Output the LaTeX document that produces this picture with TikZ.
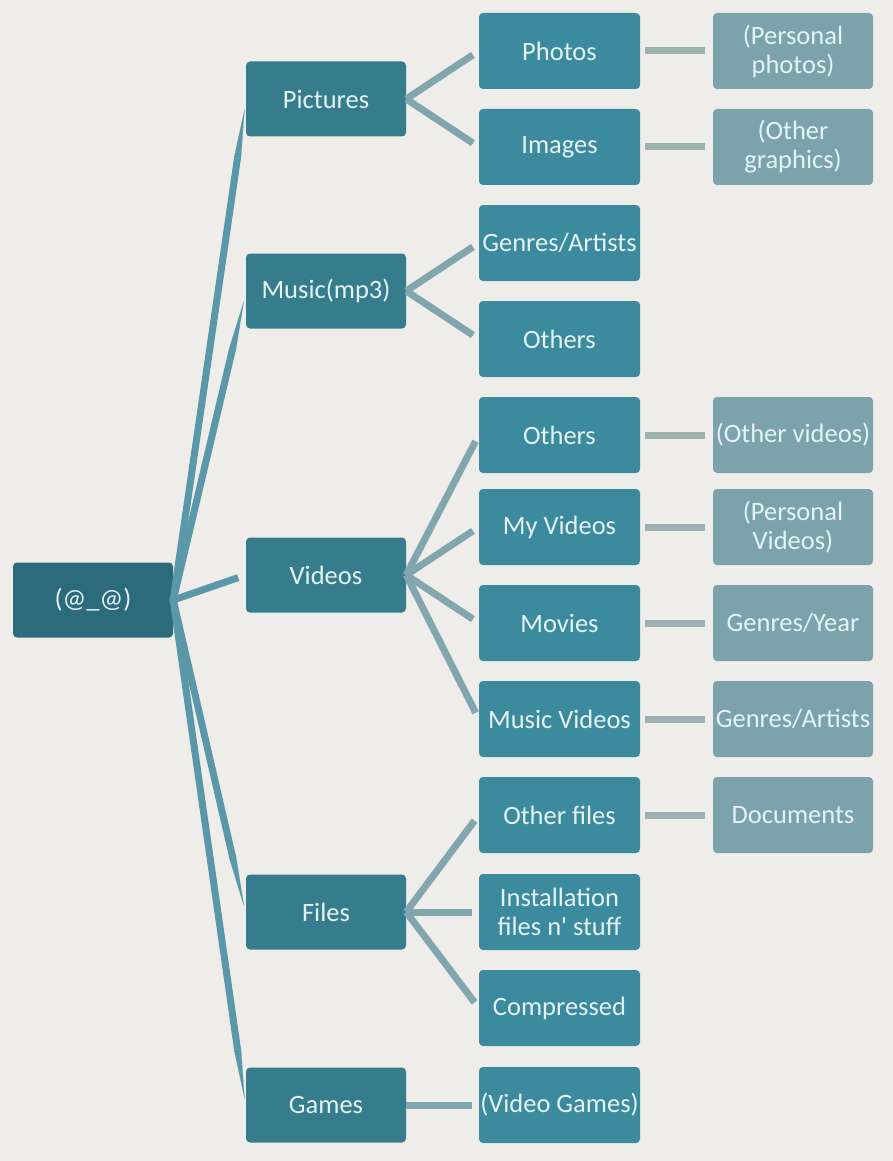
\documentclass[tikz,border=0pt]{standalone}
\usepackage{fontspec}
\setmainfont{Carlito}
\usepackage{xcolor}
\usepackage{tikz}
\usetikzlibrary{calc,arrows.meta}
\definecolor{bgGrey}{HTML}{EFEDEA}
\definecolor{rootTeal}{HTML}{2C6B7B}
\definecolor{dirTeal}{HTML}{357D8D}
\definecolor{subTeal}{HTML}{3C8A9D}
\definecolor{leafTeal}{HTML}{7CA3AC}
\definecolor{paleText}{HTML}{E4F3F5}
\definecolor{rootLine}{HTML}{5A97A9}
\definecolor{dirLine}{HTML}{82A6AD}
\definecolor{leafLine}{HTML}{9DB1B3}
\tikzset{
  folderbox/.style={rectangle, rounded corners=4pt, fill=#1, text=paleText, align=center, font=\fontsize{26.5}{29}\selectfont, minimum width=160pt, minimum height=75pt, inner sep=1pt},
  rootbox/.style={folderbox=rootTeal},
  dirbox/.style={folderbox=dirTeal},
  subbox/.style={folderbox=subTeal, minimum width=161pt, minimum height=76pt},
  leafbox/.style={folderbox=leafTeal, minimum height=76pt},
  rootlink/.style={draw=rootLine, line width=7pt, shorten <=-2pt, shorten >=8pt},
  taperlink/.style={rootlink, -{Triangle[length=50pt,width=7pt,line width=0.1pt]}},
  dirlink/.style={draw=dirLine, line width=7pt, shorten >=7pt},
  leaflink/.style={draw=leafLine, line width=7pt, shorten <=5pt, shorten >=8pt},
}
\begin{document}
\begin{tikzpicture}[x=1pt,y=-1pt]
  \useasboundingbox (0,0) rectangle (893,1161);
  \fill[bgGrey] (0,0) rectangle (893,1161);

  \node[rootbox] (root) at (93,600) {(@\_@)};

  % first level
  \node[dirbox] (pictures) at (326,99) {Pictures};
  \node[dirbox] (music) at (326,291) {Music(mp3)};
  \node[dirbox] (videos) at (326,575) {Videos};
  \node[dirbox] (files) at (326,912) {Files};
  \node[dirbox] (games) at (326,1105) {Games};

  % second level
  \node[subbox] (photos) at (559.5,51) {Photos};
  \node[subbox] (images) at (559.5,147) {Images};
  \node[subbox] (genartists) at (559.5,243) {Genres/Artists};
  \node[subbox] (musothers) at (559.5,339) {Others};
  \node[subbox] (vidothers) at (559.5,435) {Others};
  \node[subbox] (myvideos) at (559.5,527) {My Videos};
  \node[subbox] (movies) at (559.5,623) {Movies};
  \node[subbox] (musvideos) at (559.5,719) {Music Videos};
  \node[subbox] (otherfiles) at (559.5,815) {Other files};
  \node[subbox] (install) at (559.5,912) {Installation\\files n\textquotesingle{} stuff};
  \node[subbox] (compressed) at (559.5,1008) {Compressed};
  \node[subbox] (vidgames) at (559.5,1105) {(Video Games)};

  % third level
  \node[leafbox] (persphotos) at (793,51) {(Personal\\photos)};
  \node[leafbox] (othergfx) at (793,147) {(Other\\graphics)};
  \node[leafbox] (othervids) at (793,435) {(Other videos)};
  \node[leafbox] (persvids) at (793,527) {(Personal\\Videos)};
  \node[leafbox] (genyear) at (793,623) {Genres/Year};
  \node[leafbox] (mvgenres) at (793,719) {Genres/Artists};
  \node[leafbox] (documents) at (793,815) {Documents};

  % links from the root, tapering off
  \foreach \d in {pictures,music,files,games}
    \draw[taperlink] (root.east) -- ($(\d.west)+(0,2)$);
  \draw[rootlink] (root.east) -- (videos.west);

  \foreach \a/\b in {pictures/photos,pictures/images,music/genartists,music/musothers,
      videos/vidothers,videos/myvideos,videos/movies,videos/musvideos,
      files/otherfiles,files/install,files/compressed,games/vidgames}
    \draw[dirlink] (\a.east) -- (\b.west);

  \foreach \a/\b in {photos/persphotos,images/othergfx,vidothers/othervids,myvideos/persvids,
      movies/genyear,musvideos/mvgenres,otherfiles/documents}
    \draw[leaflink] (\a.east) -- (\b.west);
\end{tikzpicture}
\end{document}
